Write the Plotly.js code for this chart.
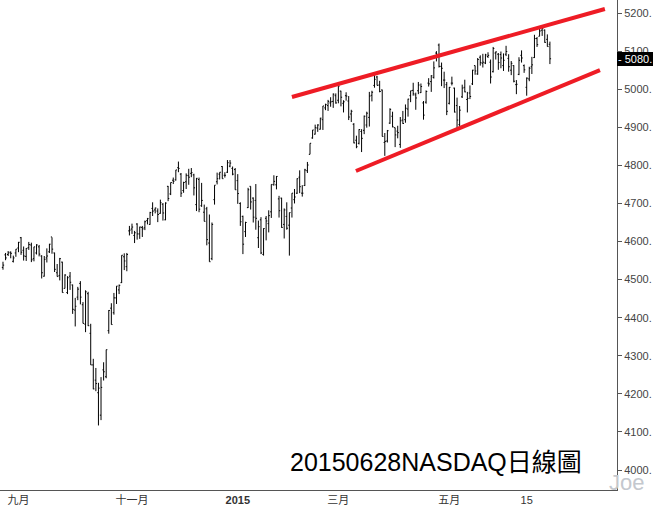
<!DOCTYPE html>
<html>
<head>
<meta charset="utf-8">
<script src="https://cdn.plot.ly/plotly-3.0.1.min.js"></script>
<style>html,body{margin:0;padding:0;background:#fff;}#chart{width:653px;height:506px;}</style>
</head>
<body>
<div id="chart"></div>
<script>
const dates = [
'2014-08-22','2014-08-25','2014-08-26','2014-08-27','2014-08-28','2014-08-29',
'2014-09-02','2014-09-03','2014-09-04','2014-09-05','2014-09-08','2014-09-09','2014-09-10','2014-09-11','2014-09-12','2014-09-15','2014-09-16','2014-09-17','2014-09-18','2014-09-19','2014-09-22','2014-09-23','2014-09-24','2014-09-25','2014-09-26','2014-09-29','2014-09-30',
'2014-10-01','2014-10-02','2014-10-03','2014-10-06','2014-10-07','2014-10-08','2014-10-09','2014-10-10','2014-10-13','2014-10-14','2014-10-15','2014-10-16','2014-10-17','2014-10-20','2014-10-21','2014-10-22','2014-10-23','2014-10-24','2014-10-27','2014-10-28','2014-10-29','2014-10-30','2014-10-31',
'2014-11-03','2014-11-04','2014-11-05','2014-11-06','2014-11-07','2014-11-10','2014-11-11','2014-11-12','2014-11-13','2014-11-14','2014-11-17','2014-11-18','2014-11-19','2014-11-20','2014-11-21','2014-11-24','2014-11-25','2014-11-26','2014-11-28',
'2014-12-01','2014-12-02','2014-12-03','2014-12-04','2014-12-05','2014-12-08','2014-12-09','2014-12-10','2014-12-11','2014-12-12','2014-12-15','2014-12-16','2014-12-17','2014-12-18','2014-12-19','2014-12-22','2014-12-23','2014-12-24','2014-12-26','2014-12-29','2014-12-30','2014-12-31',
'2015-01-02','2015-01-05','2015-01-06','2015-01-07','2015-01-08','2015-01-09','2015-01-12','2015-01-13','2015-01-14','2015-01-15','2015-01-16','2015-01-20','2015-01-21','2015-01-22','2015-01-23','2015-01-26','2015-01-27','2015-01-28','2015-01-29','2015-01-30',
'2015-02-02','2015-02-03','2015-02-04','2015-02-05','2015-02-06','2015-02-09','2015-02-10','2015-02-11','2015-02-12','2015-02-13','2015-02-17','2015-02-18','2015-02-19','2015-02-20','2015-02-23','2015-02-24','2015-02-25','2015-02-26','2015-02-27',
'2015-03-02','2015-03-03','2015-03-04','2015-03-05','2015-03-06','2015-03-09','2015-03-10','2015-03-11','2015-03-12','2015-03-13','2015-03-16','2015-03-17','2015-03-18','2015-03-19','2015-03-20','2015-03-23','2015-03-24','2015-03-25','2015-03-26','2015-03-27','2015-03-30','2015-03-31',
'2015-04-01','2015-04-02','2015-04-06','2015-04-07','2015-04-08','2015-04-09','2015-04-10','2015-04-13','2015-04-14','2015-04-15','2015-04-16','2015-04-17','2015-04-20','2015-04-21','2015-04-22','2015-04-23','2015-04-24','2015-04-27','2015-04-28','2015-04-29','2015-04-30',
'2015-05-01','2015-05-04','2015-05-05','2015-05-06','2015-05-07','2015-05-08','2015-05-11','2015-05-12','2015-05-13','2015-05-14','2015-05-15','2015-05-18','2015-05-19','2015-05-20','2015-05-21','2015-05-22','2015-05-26','2015-05-27','2015-05-28','2015-05-29',
'2015-06-01','2015-06-02','2015-06-03','2015-06-04','2015-06-05','2015-06-08','2015-06-09','2015-06-10','2015-06-11','2015-06-12','2015-06-15','2015-06-16','2015-06-17','2015-06-18','2015-06-19','2015-06-22','2015-06-23','2015-06-24','2015-06-25','2015-06-26'
];
const openVals = [
4532,4565,4566,4572,4548,4570,
4583,4610,4577,4561,4584,4591,4555,4570,4586,4562,4509,4557,4573,4612,4570,4518,4511,4546,4477,4466,4509,
4486,4420,4454,4490,4434,4383,4463,4359,4276,4236,4203,4144,4263,4245,4366,4425,4413,4452,4473,4492,4560,4534,4628,
4633,4616,4646,4620,4637,4636,4655,4645,4687,4683,4680,4674,4698,4657,4745,4725,4761,4762,4794,
4777,4734,4757,4773,4779,4775,4697,4763,4694,4677,4686,4596,4555,4710,4757,4777,4797,4774,4782,4798,4792,4789,
4760,4700,4666,4626,4689,4745,4714,4708,4610,4657,4566,4661,4647,4678,4749,4749,4712,4714,4645,4666,
4643,4688,4710,4727,4769,4727,4747,4786,4829,4872,4882,4898,4895,4920,4951,4957,4964,4968,4983,
4971,4995,4963,4983,4969,4935,4908,4866,4858,4889,4892,4906,4926,4984,5010,5032,5011,4998,4860,4864,4911,4929,
4899,4890,4855,4919,4920,4948,4983,4997,4985,4996,4991,4964,4966,5016,5020,5031,5095,5116,5060,5024,5012,
4963,5016,5003,4957,4907,4980,5005,4973,4990,5014,5062,5040,5084,5068,5069,5086,5071,5046,5095,5092,
5091,5062,5092,5081,5050,5062,5012,5039,5089,5062,5005,5027,5059,5083,5133,5139,5155,5155,5131,5118
];
const highVals = [
4547,4570,4575,4574,4563,4580,
4599,4612,4587,4583,4599,4597,4586,4593,4591,4564,4562,4582,4594,4611,4571,4541,4557,4547,4514,4509,4520,
4487,4452,4481,4496,4441,4472,4468,4384,4292,4268,4229,4244,4283,4316,4420,4438,4465,4483,4487,4564,4569,4570,4641,
4647,4628,4648,4639,4641,4655,4662,4678,4703,4689,4687,4710,4701,4703,4746,4755,4768,4788,4810,
4780,4757,4779,4791,4793,4778,4767,4768,4754,4697,4691,4671,4650,4748,4781,4782,4798,4782,4814,4814,4797,4793,
4777,4703,4668,4652,4741,4745,4716,4751,4655,4664,4635,4667,4682,4750,4774,4772,4720,4715,4687,4703,
4676,4727,4738,4766,4787,4748,4791,4809,4858,4893,4907,4908,4925,4956,4962,4972,4979,4989,4989,
5008,4996,4971,4992,4982,4946,4911,4878,4895,4895,4931,4941,4993,4996,5042,5035,5022,4999,4885,4893,4950,4941,
4899,4904,4927,4943,4960,4975,4996,5017,4991,5019,5015,4969,4997,5029,5037,5073,5100,5120,5070,5046,5019,
5006,5033,5004,4978,4956,5012,5025,4993,5010,5051,5062,5082,5089,5093,5093,5097,5078,5111,5099,5095,
5099,5094,5114,5092,5074,5063,5024,5084,5102,5065,5031,5059,5085,5143,5137,5164,5165,5157,5144,5125
];
const lowVals = [
4526,4551,4562,4556,4545,4560,
4572,4565,4550,4549,4578,4546,4548,4566,4561,4503,4508,4545,4570,4568,4520,4508,4498,4466,4477,4462,4473,
4410,4377,4446,4435,4385,4362,4378,4276,4212,4207,4117,4131,4235,4241,4358,4382,4408,4436,4462,4491,4525,4522,4616,
4620,4596,4605,4607,4612,4630,4645,4644,4667,4674,4651,4673,4655,4656,4706,4722,4751,4760,4782,
4717,4728,4738,4749,4769,4721,4680,4677,4691,4653,4590,4547,4551,4697,4750,4763,4765,4768,4780,4795,4774,4736,
4699,4641,4567,4612,4688,4684,4650,4631,4583,4567,4563,4603,4624,4662,4747,4737,4663,4636,4608,4631,
4563,4663,4700,4725,4727,4718,4746,4780,4829,4870,4881,4888,4894,4893,4945,4943,4954,4951,4962,
4963,4955,4939,4970,4919,4914,4858,4845,4855,4835,4882,4899,4902,4968,5004,5010,4992,4876,4825,4860,4909,4900,
4848,4871,4846,4909,4912,4928,4966,4983,4946,4987,4990,4920,4962,5007,4993,5028,5073,5057,5008,5003,4932,
4960,5010,4939,4893,4902,4977,4992,4939,4974,5011,5038,5038,5062,5057,5066,5082,5015,5044,5078,5051,
5055,5048,5087,5046,5037,5018,4987,5037,5070,5043,4983,5021,5040,5082,5111,5139,5140,5122,5112,5066
];
const closeVals = [
4538,4557,4570,4569,4557,4580,
4598,4572,4562,4582,4592,4552,4586,4591,4567,4518,4553,4562,4593,4580,4527,4508,4555,4466,4512,4505,4493,
4422,4430,4475,4454,4385,4468,4379,4276,4213,4227,4215,4217,4258,4316,4419,4382,4452,4483,4485,4564,4549,4566,4630,
4638,4623,4620,4638,4633,4652,4660,4676,4680,4688,4671,4702,4675,4701,4713,4755,4758,4788,4792,
4727,4755,4774,4769,4781,4741,4766,4685,4708,4653,4605,4547,4645,4748,4765,4782,4765,4774,4807,4806,4777,4736,
4726,4652,4593,4650,4736,4704,4664,4661,4639,4570,4634,4654,4668,4750,4758,4771,4681,4637,4683,4635,
4676,4727,4717,4765,4744,4727,4788,4801,4858,4893,4899,4906,4924,4956,4960,4968,4967,4987,4964,
5008,4979,4967,4982,4927,4942,4859,4849,4894,4871,4929,4937,4982,4992,5026,5010,4994,4876,4863,4891,4947,4901,
4880,4886,4917,4910,4950,4974,4996,4988,4977,5011,5007,4932,4994,5014,5035,5056,5092,5060,5055,5024,4942,
5005,5016,4940,4919,4945,5003,4993,4976,4981,5050,5048,5078,5070,5071,5090,5089,5032,5107,5098,5070,
5082,5076,5099,5059,5068,5021,5013,5076,5082,5051,5029,5055,5064,5133,5117,5153,5160,5123,5112,5080
];
const xTickDates = ['2014-09-02','2014-11-03','2015-01-02','2015-03-02','2015-05-01','2015-06-15'];
const xTickLabels = ['九月','十一月','<b>2015</b>','三月','五月','15'];
const yTickVals = [4000,4100,4200,4300,4400,4500,4600,4700,4800,4900,5000,5100,5200];
const lastPrice = 5080;
// trendlines: positions in trading-day index, values in index points
const upperTrendX = [112.0, 233.3];
const upperTrendY = [4979.5, 5210.6];
const lowerTrendX = [136.8, 231.4];
const lowerTrendY = [4785.2, 5050.4];
const chartTitle = '20150628NASDAQ日線圖';

const xIdx = dates.map((d, i) => i);
const tickIdx = xTickDates.map(d => dates.indexOf(d));

const traces = [
  {
    type: 'ohlc', x: xIdx, open: openVals, high: highVals, low: lowVals, close: closeVals,
    increasing: {line: {color: '#000', width: 1}},
    decreasing: {line: {color: '#000', width: 1}},
    tickwidth: 0.45, hoverinfo: 'skip'
  },
  {type: 'scatter', mode: 'lines', x: upperTrendX, y: upperTrendY, line: {color: '#ee1c25', width: 4}, hoverinfo: 'skip'},
  {type: 'scatter', mode: 'lines', x: lowerTrendX, y: lowerTrendY, line: {color: '#ee1c25', width: 4}, hoverinfo: 'skip'}
];

const axFont = {family: 'Liberation Sans, Arial, "Noto Sans CJK TC", sans-serif', size: 11, color: '#444'};
const layout = {
  width: 653, height: 506,
  margin: {l: 0, r: 36, t: 0, b: 16, pad: 0},
  paper_bgcolor: '#fff', plot_bgcolor: '#fff',
  showlegend: false, hovermode: false,
  xaxis: {
    range: [-1.16, 238.0], showgrid: false, zeroline: false, showline: true,
    linecolor: '#555', linewidth: 1, ticks: '', tickmode: 'array',
    tickvals: tickIdx, ticktext: xTickLabels, tickfont: {family: axFont.family, size: 11, color: '#333'},
    rangeslider: {visible: false}, automargin: false, fixedrange: true
  },
  yaxis: {
    side: 'right', range: [3947.5, 5234.3], showgrid: false, zeroline: false, showline: true,
    linecolor: '#555', linewidth: 1, ticks: 'outside', ticklen: 4, tickcolor: '#555', tickwidth: 1,
    tickmode: 'array', tickvals: yTickVals, ticktext: yTickVals.map(v => v + '.'),
    tickfont: axFont, automargin: false, fixedrange: true
  },
  annotations: [
    {
      xref: 'paper', yref: 'y', x: 1, y: lastPrice, xanchor: 'left', yanchor: 'middle',
      text: '- ' + lastPrice + '.', showarrow: false, bgcolor: '#000', borderpad: 1, borderwidth: 0,
      font: {family: axFont.family, size: 11, color: '#fff'}
    },
    {
      xref: 'paper', yref: 'paper', x: 0.706, y: 0.058, xanchor: 'center', yanchor: 'middle',
      text: chartTitle, showarrow: false,
      font: {family: 'Liberation Sans, Arial, "Noto Sans CJK TC", sans-serif', size: 25, color: '#000'}
    },
    {
      xref: 'paper', yref: 'paper', x: 1.016, y: 0.016, xanchor: 'center', yanchor: 'middle',
      text: 'Joe', showarrow: false,
      font: {family: '"Liberation Sans Narrow", "Liberation Sans", Arial, sans-serif', size: 22, color: '#c4c8ce'}
    }
  ]
};

Plotly.newPlot('chart', traces, layout, {staticPlot: true, displayModeBar: false});
</script>
</body>
</html>
